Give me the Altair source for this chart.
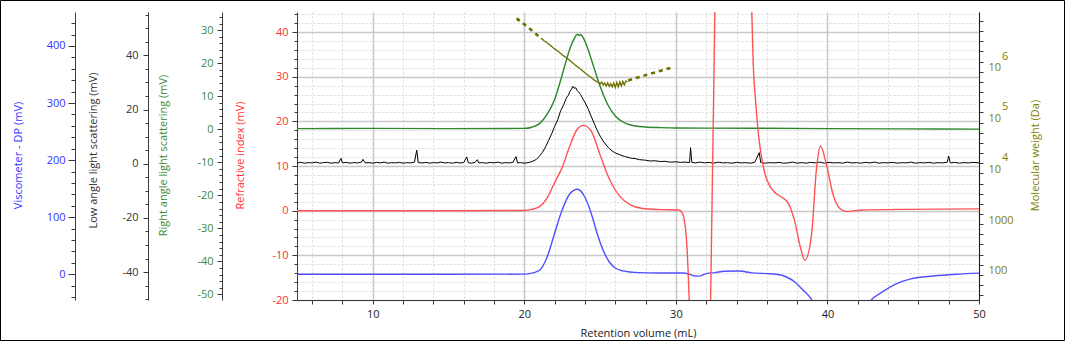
import altair as alt
import pandas as pd

FONT = "Open Sans"

# ---------------- data ----------------
# Refractive index (mV) vs retention volume (mL)
red_pts = [(5, 0), (10, 0), (15, 0), (20, 0.05), (20.5, 0.3), (21.0, 0.9), (21.5, 2.8), (22.0, 6.3),
           (22.5, 9.7), (23.0, 14.5), (23.5, 18.3), (23.9, 19.1), (24.4, 17.9), (25.0, 12.5), (25.4, 8.8),
           (25.8, 5.8), (26.3, 3.2), (27.0, 1.3), (27.8, 0.5), (29.0, 0.25), (30.2, 0.15), (30.4, -0.4),
           (30.55, -2), (30.7, -6.5), (30.8, -13), (30.9, -22), (31.2, -60), (31.9, -60), (32.29, -20),
           (32.57, 44.5), (32.75, 80), (34.75, 80), (34.97, 50), (35.1, 33), (35.25, 25), (35.45, 17),
           (35.65, 12), (35.9, 8), (36.2, 5.5), (36.5, 4.2), (36.8, 3.4), (37.08, 2.8), (37.35, 2.0),
           (37.52, 1.0), (37.7, -0.8), (37.85, -2.5), (38.18, -7.7), (38.51, -11.1), (38.95, -5.4),
           (39.28, 9.5), (39.54, 14.5), (39.94, 10.2), (40.38, 3.5), (40.82, 0.5), (41.26, -0.2),
           (42.14, 0.1), (45, 0.3), (50, 0.4)]

# Viscometer - DP (mV)
blue_pts = [(5, 0), (10, 0), (15, 0), (20, 0.3), (20.5, 2), (21.0, 7), (21.5, 30), (22.0, 72), (22.5, 113),
            (23.0, 141), (23.5, 149), (24.0, 135), (24.4, 108), (24.8, 72), (25.2, 42), (25.6, 22), (26.0, 11),
            (26.5, 6), (27.5, 3), (29.0, 2.3), (30.5, 2.3), (30.9, 0), (31.3, -3), (31.5, -3.2), (32.0, 1.2),
            (32.6, 3), (33.2, 5.3), (34.2, 5.8), (35.0, 2.5), (36.0, 1.2), (36.64, 0), (37.3, -4.7),
            (37.85, -13.5), (38.4, -28), (38.84, -40), (39.0, -46), (39.4, -65), (42.5, -65), (42.9, -45),
            (43.5, -33), (44.5, -17), (45.5, -8), (47.0, -3), (48.5, 0), (50, 2)]

# Right angle light scattering (mV)
green_pts = [(5, 0.2), (10, 0.25), (15, 0.2), (20, 0.25), (20.5, 0.6), (21, 1.7), (21.5, 4.5), (22, 9),
             (22.5, 16.5), (23, 24.3), (23.3, 27.5), (23.5, 28.8), (23.6, 28.4), (23.7, 28.7), (23.9, 27.6),
             (24.1, 25.5), (24.5, 20), (25, 13), (25.5, 7.5), (26, 4), (26.5, 2.2), (27, 1.3), (28, 0.7),
             (29, 0.5), (30, 0.4), (35, 0.3), (40, 0.2), (45, 0.1), (50, 0.05)]

# Low angle light scattering (mV)
black_pts = [(5.0, 0.3), (5.25, 0.5), (5.5, 0.2), (5.75, 0.4), (6.0, 0.3), (6.25, 0.6), (6.5, 0.2), (6.75, 0.4),
             (7.0, 0.5), (7.25, 0.2), (7.5, 0.4), (7.75, 0.3), (7.9, 2.0), (8.0, 0.3), (8.25, 0.5), (8.5, 0.2),
             (8.75, 0.4), (9.0, 0.3), (9.25, 0.6), (9.35, 1.6), (9.5, 0.3), (9.75, 0.4), (10.0, 0.2),
             (10.25, 0.5), (10.5, 0.3), (10.75, 0.6), (11.0, 0.2), (11.25, 0.4), (11.5, 0.3), (11.75, 0.5),
             (12.0, 0.2), (12.25, 0.4), (12.5, 0.3), (12.75, 0.6), (12.9, 5.0), (13.0, 0.4), (13.25, 0.3),
             (13.5, 0.5), (13.75, 0.2), (14.0, 0.4), (14.25, 0.3), (14.5, 0.6), (14.75, 0.3), (15.0, 0.4),
             (15.25, 0.2), (15.5, 0.5), (15.75, 0.3), (16.0, 0.4), (16.2, 2.5), (16.3, 0.4), (16.5, 0.2),
             (16.75, 0.5), (16.9, 1.5), (17.0, 0.3), (17.25, 0.4), (17.5, 0.2), (17.75, 0.5), (18.0, 0.3),
             (18.25, 0.6), (18.5, 0.2), (18.75, 0.4), (19.0, 0.3), (19.25, 0.5), (19.45, 2.6), (19.55, 0.3),
             (19.75, 0.4), (20.0, 0.2), (20.25, 0.4), (20.5, 0.8), (20.8, 1.6), (21.0, 2.8), (21.2, 4.2),
             (21.4, 6.2), (21.6, 8.6), (21.8, 11.0), (22.0, 13.8), (22.2, 16.2), (22.4, 19.6), (22.6, 21.8),
             (22.8, 24.6), (22.9, 25.2), (23.0, 26.6), (23.1, 27.4), (23.2, 28.6), (23.3, 27.9), (23.4, 28.0),
             (23.5, 26.9), (23.6, 26.4), (23.7, 25.6), (23.8, 24.6), (24.0, 22.6), (24.2, 20.4), (24.4, 17.6),
             (24.6, 15.0), (24.8, 12.4), (25.0, 10.2), (25.2, 8.4), (25.4, 6.9), (25.6, 5.6), (25.8, 4.7),
             (26.0, 4.0), (26.3, 3.3), (26.6, 2.7), (27.0, 2.1), (27.3, 1.9), (27.6, 1.5), (28.0, 1.3),
             (28.3, 1.0), (28.6, 1.1), (29.0, 0.8), (29.3, 0.9), (29.6, 0.6), (30.0, 0.7), (30.3, 0.5),
             (30.6, 0.6), (30.9, 0.4), (30.97, 5.9), (31.05, 0.5), (31.3, 0.3), (31.6, 0.6), (31.9, 0.3),
             (32.2, 0.5), (32.5, 0.2), (32.8, 0.6), (33.1, 0.3), (33.4, 0.4), (33.7, 0.2), (34.0, 0.5),
             (34.3, 0.3), (34.6, 0.4), (34.9, 0.2), (35.2, 0.5), (35.5, 4.1), (35.6, 0.4), (35.9, 0.2),
             (36.2, 0.4), (36.5, 0.3), (36.8, 0.5), (37.1, 0.2), (37.4, 0.3), (37.7, 0.6), (38.0, 0.2),
             (38.3, 0.4), (38.6, 0.2), (38.9, 0.5), (39.2, 0.3), (39.5, 0.6), (39.8, 0.2), (40.1, 0.5),
             (40.4, 0.3), (40.7, 0.4), (41.0, 0.2), (41.3, 0.6), (41.6, 0.3), (41.9, 0.4), (42.2, 0.2),
             (42.5, 0.5), (42.8, 0.3), (43.1, 0.6), (43.4, 0.2), (43.7, 0.4), (44.0, 0.3), (44.3, 0.5),
             (44.6, 0.2), (44.9, 0.4), (45.2, 0.3), (45.5, 0.6), (45.8, 0.2), (46.1, 0.4), (46.4, 0.3),
             (46.7, 0.5), (47.0, 0.2), (47.3, 0.4), (47.6, 0.3), (47.9, 0.5), (48.0, 2.8), (48.1, 0.3),
             (48.4, 0.5), (48.7, 0.2), (49.0, 0.4), (49.3, 0.3), (49.6, 0.5), (50.0, 0.3)]

# Molecular weight, log10(Da): measured part and calibration extension (dashed)
mw_meas_pts = [(21.1, 6.46), (21.2, 6.44), (21.3, 6.41), (21.4, 6.39), (21.5, 6.37), (21.6, 6.35), (21.7, 6.32),
               (21.8, 6.30), (21.9, 6.27), (22.0, 6.25), (22.2, 6.21), (22.4, 6.16), (22.6, 6.11), (22.8, 6.07),
               (23.0, 6.02), (23.2, 5.97), (23.4, 5.92), (23.6, 5.88), (23.8, 5.83), (24.0, 5.78), (24.2, 5.73),
               (24.4, 5.69), (24.6, 5.64), (24.8, 5.60), (24.9, 5.59), (25.0, 5.56), (25.1, 5.60), (25.2, 5.54),
               (25.3, 5.58), (25.4, 5.52), (25.5, 5.58), (25.6, 5.51), (25.7, 5.57), (25.8, 5.50), (25.9, 5.58),
               (26.0, 5.49), (26.1, 5.59), (26.2, 5.50), (26.3, 5.60), (26.4, 5.52), (26.5, 5.61), (26.6, 5.54),
               (26.7, 5.62), (26.8, 5.60)]
mw_fit_pts = [("a", 19.49, 6.85), ("a", 20.3, 6.66), ("a", 21.14, 6.45),
              ("b", 26.85, 5.63), ("b", 28.3, 5.76), ("b", 29.82, 5.89)]

# tick values / labels
x_ticks = list(range(6, 51, 2))
red_ticks = list(range(-20, 45, 2))
green_ticks = list(range(-50, 35, 2))
black_ticks = list(range(-50, 56, 5))
blue_ticks = list(range(-40, 451, 20))
mw_ticks = [10 ** (k / 5) for k in range(7, 35)]
mw_exps = [(1e4, "4"), (1e5, "5"), (1e6, "6")]

# ---------------- styling ----------------
C_RED, C_RED_T = "#ff5252", "#ff3030"
C_GREEN, C_GREEN_T = "#2e862e", "#3a8a3a"
C_BLUE, C_BLUE_T = "#5050ff", "#3434ff"
C_BLACK, C_BLACK_T = "#000000", "#333333"
C_OLIVE, C_OLIVE_T = "#6e6e00", "#808000"
AXC = "#3a3a3a"


def cond(test, a, b):
    return {"condition": {"test": test, "value": a}, "value": b}


def pts_df(pts):
    return pd.DataFrame(pts, columns=["x", "y"])


x_scale = alt.Scale(domain=[5, 50], nice=False, zero=False)
x_major = "datum.value % 10 === 0"
x_axis = alt.Axis(values=x_ticks, labelExpr=f"{x_major} ? '' + datum.value : ''",
                  title="Retention volume (mL)", titleFont=FONT, titleFontSize=11, titleFontWeight="normal",
                  titleColor="#222222", titleY=33, titleBaseline="middle",
                  labelFont=FONT, labelFontSize=11, labelColor="#222222", labelPadding=4,
                  labelFlush=False, labelOverlap=False, tickSize=4, tickColor=AXC, domainColor=AXC,
                  grid=True, gridColor=cond(x_major, "#c8c8c8", "#d8d8d8"),
                  gridDash=cond(x_major, [], [2, 2]), gridWidth=cond(x_major, 1.5, 1))


def X():
    return alt.X("x:Q", scale=x_scale, axis=x_axis)


def y_axis(title, tcol, offset, values, major, tmaj, tmin, pad, tx, ty, grid=False, orient="left"):
    kw = dict(orient=orient, offset=offset, values=values,
              labelExpr=f"{major} ? '' + datum.value : ''",
              title=title, titleFont=FONT, titleFontSize=11, titleFontWeight="normal", titleColor=tcol,
              titleAngle=270, titleAlign="center", titleBaseline="middle", titleX=tx, titleY=ty,
              labelFont=FONT, labelFontSize=11, labelColor=tcol, labelPadding=pad,
              labelFlush=False, labelOverlap=False,
              tickSize=cond(major, tmaj, tmin), tickColor=AXC, domainColor=AXC, grid=grid)
    if grid:
        kw.update(gridColor=cond(major, "#c8c8c8", "#d8d8d8"),
                  gridDash=cond(major, [], [2, 2]), gridWidth=cond(major, 1.5, 1))
    return alt.Axis(**kw)


red_axis = y_axis("Refractive index (mV)", C_RED_T, 0, red_ticks, "datum.value % 10 === 0",
                  5, 3, 4, -57, 143, grid=True)
green_axis = y_axis("Right angle light scattering (mV)", C_GREEN_T, 75, green_ticks,
                    "datum.value % 10 === 0", 5, 3, 4, -59, 143)
black_axis = y_axis("Low angle light scattering (mV)", C_BLACK_T, 149, black_ticks,
                    "datum.value % 20 === 0", 5, 3, 5, -55, 138)
blue_axis = y_axis("Viscometer - DP (mV)", C_BLUE_T, 222, blue_ticks,
                   "datum.value % 100 === 0", 7, 4, 3, -57, 143)

mw_major = "abs(log(datum.value)/LN10 - round(log(datum.value)/LN10)) < 0.01"
mw_axis = alt.Axis(orient="right", values=mw_ticks,
                   labelExpr=f"{mw_major} ? (datum.value < 5000 ? format(datum.value, '.0f') : '10') : ''",
                   title="Molecular weight (Da)", titleFont=FONT, titleFontSize=11, titleFontWeight="normal",
                   titleColor=C_OLIVE_T, titleAngle=270, titleAlign="center", titleBaseline="middle",
                   titleX=56, titleY=143, labelFont=FONT, labelFontSize=11, labelColor=C_OLIVE_T,
                   labelPadding=5, labelBaseline="middle", labelOffset=6, labelFlush=False,
                   labelOverlap=False, tickSize=4, tickColor=AXC, domainColor="#222222")

red_scale = alt.Scale(domain=[-20, 44.5], nice=False, zero=False)
green_scale = alt.Scale(domain=[-51.7, 35.5], nice=False, zero=False)
black_scale = alt.Scale(domain=[-50.3, 56], nice=False, zero=False)
blue_scale = alt.Scale(domain=[-45, 459.5], nice=False, zero=False)
mw_scale = alt.Scale(type="log", domain=[20.3, 9.46e6], nice=False)

# ---------------- charts ----------------
frame = alt.Chart(pd.DataFrame({"a": [0]})).mark_rect(
    fillOpacity=0, stroke="#000000", strokeWidth=1).encode(
    x=alt.value(-296.5), x2=alt.value(767.5), y=alt.value(-11.5), y2=alt.value(328.5))

blue = alt.Chart(pts_df(blue_pts)).mark_line(
    color=C_BLUE, strokeWidth=1.4, clip=True, interpolate="monotone").encode(
    x=X(), y=alt.Y("y:Q", scale=blue_scale, axis=blue_axis))

black = alt.Chart(pts_df(black_pts)).mark_line(
    color=C_BLACK, strokeWidth=1, clip=True).encode(
    x=X(), y=alt.Y("y:Q", scale=black_scale, axis=black_axis))

green = alt.Chart(pts_df(green_pts)).mark_line(
    color=C_GREEN, strokeWidth=1.4, clip=True, interpolate="monotone").encode(
    x=X(), y=alt.Y("y:Q", scale=green_scale, axis=green_axis))

red = alt.Chart(pts_df(red_pts)).mark_line(
    color=C_RED, strokeWidth=1.4, clip=True, interpolate="monotone").encode(
    x=X(), y=alt.Y("y:Q", scale=red_scale, axis=red_axis))

mw_meas = pd.DataFrame(mw_meas_pts, columns=["x", "lg"])
mw_meas["m"] = 10 ** mw_meas["lg"]
mw_fit = pd.DataFrame(mw_fit_pts, columns=["seg", "x", "lg"])
mw_fit["m"] = 10 ** mw_fit["lg"]
mw_ex = pd.DataFrame(mw_exps, columns=["m", "t"])

mw_dash = alt.Chart(mw_fit).mark_line(
    color=C_OLIVE, strokeWidth=2.6, strokeDash=[4, 4], clip=True).encode(
    x=X(), y=alt.Y("m:Q", scale=mw_scale, axis=mw_axis), detail="seg:N")
mw_line = alt.Chart(mw_meas).mark_line(
    color=C_OLIVE, strokeWidth=1.3, clip=True).encode(
    x=X(), y=alt.Y("m:Q", scale=mw_scale, axis=mw_axis))
mw_sup = alt.Chart(mw_ex).mark_text(
    font=FONT, fontSize=11, color=C_OLIVE_T, align="left", baseline="middle", dy=-5).encode(
    x=alt.value(705), y=alt.Y("m:Q", scale=mw_scale, axis=mw_axis), text="t:N")
mw = alt.layer(mw_dash, mw_line, mw_sup)

chart = alt.layer(frame, blue, black, green, red, mw).resolve_scale(y="independent").properties(
    width=682, height=288,
    autosize=alt.AutoSizeParams(type="none"),
    padding={"left": 297, "top": 12, "right": 86, "bottom": 42},
    background="#ffffff",
).configure_view(strokeWidth=0)

chart.save("out.html", embed_options={"renderer": "svg", "actions": False})
